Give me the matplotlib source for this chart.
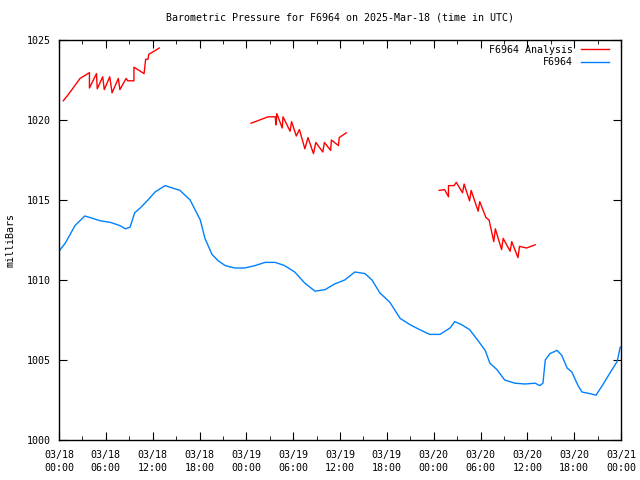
import matplotlib
matplotlib.use("Agg")
import matplotlib.pyplot as plt
from matplotlib.ticker import MultipleLocator
from datetime import datetime, timedelta

# hours since 2025-03-18 00:00 UTC
obs_hours = [0.0, 0.8, 2.05, 3.3, 4.0, 5.3, 6.6, 7.8, 8.5, 9.1, 9.7, 10.4, 11.4, 12.3,
             13.6, 14.2, 15.5, 16.8, 18.1, 18.7, 19.6, 20.4, 21.3, 22.5, 23.8, 25.1,
             26.4, 27.7, 28.9, 30.2, 31.5, 32.8, 34.1, 35.3, 36.6, 37.9, 39.2, 40.1,
             41.1, 42.4, 43.7, 45.0, 46.2, 47.5, 48.8, 50.1, 50.7, 51.6, 52.6, 53.7,
             54.6, 55.2, 56.1, 57.1, 58.4, 59.7, 61.0, 61.6, 62.0, 62.3, 62.9, 63.8,
             64.4, 65.1, 65.7, 66.5, 67.0, 68.0, 68.8, 69.6, 70.6, 71.5, 71.9]
obs_mb = [1011.8, 1012.3, 1013.4, 1014.0, 1013.9, 1013.7, 1013.6, 1013.4, 1013.2, 1013.3,
          1014.2, 1014.5, 1015.0, 1015.5, 1015.9, 1015.8, 1015.6, 1015.0, 1013.75, 1012.6,
          1011.6, 1011.2, 1010.9, 1010.75, 1010.75, 1010.9, 1011.1, 1011.1, 1010.9, 1010.5,
          1009.8, 1009.3, 1009.4, 1009.75, 1010.0, 1010.5, 1010.4, 1010.0, 1009.2, 1008.6,
          1007.6, 1007.2, 1006.9, 1006.6, 1006.6, 1007.0, 1007.4, 1007.2, 1006.9, 1006.2,
          1005.6, 1004.8, 1004.4, 1003.75, 1003.55, 1003.5, 1003.55, 1003.4, 1003.55, 1005.0,
          1005.4, 1005.6, 1005.3, 1004.5, 1004.25, 1003.4, 1003.0, 1002.9, 1002.8, 1003.4,
          1004.2, 1004.9, 1005.8]

ana_hours = [
    [0.55, 1.2, 2.7, 3.9, 3.9, 4.8, 4.9, 5.6, 5.8, 6.5, 6.8, 7.6, 7.8, 8.6, 8.8, 9.6,
     9.6, 10.9, 11.1, 11.4, 11.5, 12.85],
    [24.6, 25.7, 26.8, 27.7, 27.8, 27.9, 28.6, 28.7, 29.6, 29.8, 30.4, 30.8, 31.5, 31.9,
     32.6, 32.9, 33.8, 34.0, 34.8, 34.9, 35.8, 35.9, 36.8],
    [48.7, 49.4, 49.9, 49.9, 50.6, 50.9, 51.7, 51.9, 52.6, 52.8, 53.7, 53.9, 54.7, 55.1,
     55.7, 55.9, 56.7, 56.9, 57.8, 58.0, 58.8, 59.0, 59.9, 61.0],
]
ana_mb = [
    [1021.2, 1021.6, 1022.6, 1022.96, 1022.0, 1022.9, 1021.95, 1022.7, 1021.9, 1022.7,
     1021.7, 1022.6, 1021.9, 1022.6, 1022.45, 1022.45, 1023.3, 1022.9, 1023.8, 1023.8,
     1024.1, 1024.5],
    [1019.8, 1020.0, 1020.2, 1020.2, 1019.7, 1020.4, 1019.5, 1020.2, 1019.3, 1019.9,
     1019.0, 1019.4, 1018.2, 1018.9, 1017.9, 1018.6, 1018.0, 1018.6, 1018.1, 1018.75,
     1018.4, 1018.9, 1019.2],
    [1015.6, 1015.65, 1015.2, 1015.9, 1015.9, 1016.1, 1015.45, 1016.0, 1014.95, 1015.6,
     1014.3, 1014.9, 1013.9, 1013.75, 1012.4, 1013.2, 1011.9, 1012.6, 1011.8, 1012.4,
     1011.4, 1012.1, 1012.0, 1012.2],
]

start = datetime(2025, 3, 18)
tick_hours = list(range(0, 73, 6))
tick_labels = [(start + timedelta(hours=h)).strftime("%m/%d\n%H:%M") for h in tick_hours]

plt.rcParams['font.family'] = 'DejaVu Sans Mono'
plt.rcParams['font.size'] = 7.2

fig = plt.figure(figsize=(6.4, 4.8), dpi=100)
ax = fig.add_axes([59/640, 40/480, 562/640, 400/480])

for i in range(len(ana_hours)):
    ax.plot(ana_hours[i], ana_mb[i], color="#ff0000", lw=1,
            label="F6964 Analysis" if i == 0 else None)
ax.plot(obs_hours, obs_mb, color="#0080ff", lw=1, label="F6964")

ax.set_xlim(0, 72)
ax.set_ylim(1000, 1025)
ax.set_xticks(tick_hours)
ax.set_xticklabels(tick_labels, linespacing=1.4)
ax.xaxis.set_minor_locator(MultipleLocator(3))
ax.set_yticks(range(1000, 1026, 5))
ax.tick_params(which="both", direction="in", top=True, right=True)
ax.tick_params(axis="x", pad=7)
ax.tick_params(axis="y", pad=6)
ax.tick_params(which="major", length=6)
ax.tick_params(which="minor", length=3)
for s in ax.spines.values():
    s.set_linewidth(1)

ax.set_ylabel("milliBars", labelpad=8)
ax.set_title("Barometric Pressure for F6964 on 2025-Mar-18 (time in UTC)",
             fontsize=7.2, pad=14)
ax.legend(loc="upper right", bbox_to_anchor=(1.0, 1.0175), frameon=False,
          markerfirst=False, handlelength=2.8, borderaxespad=0.8,
          labelspacing=0.25, handletextpad=0.8)

fig.savefig("out.png", dpi=100)
